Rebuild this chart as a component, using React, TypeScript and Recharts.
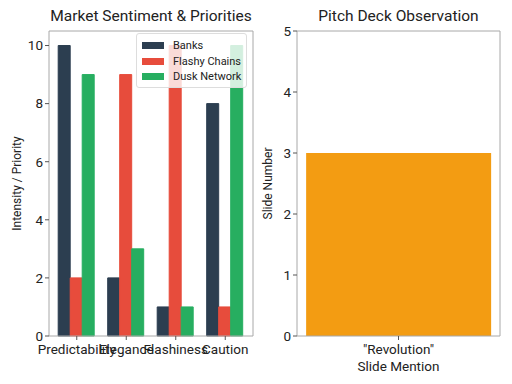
import React from 'react';
import { BarChart, Bar, XAxis, YAxis } from 'recharts';

// sentiment chart
const categories = ['Predictability', 'Elegance', 'Flashiness', 'Caution'];
const banks = [10, 2, 1, 8];
const flashyChains = [2, 9, 10, 1];
const duskNetwork = [9, 3, 1, 10];
const leftTicks = [0, 2, 4, 6, 8, 10];

// pitch deck chart
const slideLabels = ['"Revolution"'];
const slideNumbers = [3];
const rightTicks = [0, 1, 2, 3, 4, 5];

const seriesInfo = [
  { key: 'banks', name: 'Banks', color: '#2c3e50' },
  { key: 'flashy', name: 'Flashy Chains', color: '#e74c3c' },
  { key: 'dusk', name: 'Dusk Network', color: '#27ae60' },
];

const sentimentData = categories.map((c, i) => ({
  name: c,
  banks: banks[i],
  flashy: flashyChains[i],
  dusk: duskNetwork[i],
}));

const slideData = slideLabels.map((s, i) => ({ name: s, value: slideNumbers[i] }));

const FONT = 'Roboto, "Open Sans", sans-serif';
const SPINE = '#a8a8a8';
const TXT = '#222';

const tickStyle = { fill: TXT, fontSize: 13.5, fontFamily: FONT };

const App: React.FC = () => {
  return (
    <div style={{ position: 'absolute', left: 0, top: 0, width: 512, height: 384, background: '#fff', fontFamily: FONT }}>
      <div style={{ position: 'absolute', left: 40, width: 222, top: 7, textAlign: 'center', fontSize: 15.5, color: TXT }}>
        Market Sentiment &amp; Priorities
      </div>
      <div style={{ position: 'absolute', left: 290, width: 217, top: 7, textAlign: 'center', fontSize: 15.5, color: TXT }}>
        Pitch Deck Observation
      </div>

      <div style={{ position: 'absolute', left: 0, top: 0 }}>
        <BarChart width={260} height={384} data={sentimentData} margin={{ top: 30, right: 6, left: 0, bottom: 0 }} barCategoryGap="12.5%" barGap={0}>
          <XAxis dataKey="name" height={48} interval={0} padding={{ left: 3, right: 3 }} tick={tickStyle} tickLine={{ stroke: '#555' }} tickSize={4} tickMargin={4} axisLine={{ stroke: SPINE }} />
          <XAxis xAxisId="top" orientation="top" dataKey="name" height={1} tick={false} tickLine={false} axisLine={{ stroke: SPINE }} />
          <YAxis
            domain={[0, 10.5]}
            ticks={leftTicks}
            width={49}
            tick={tickStyle}
            tickLine={{ stroke: '#555' }}
            tickSize={4}
            axisLine={{ stroke: SPINE }}
            label={{ value: 'Intensity / Priority', angle: -90, position: 'insideLeft', offset: 17, style: { textAnchor: 'middle', fontSize: 12, fill: TXT, fontFamily: FONT } }}
          />
          <YAxis yAxisId="right" orientation="right" width={1} tick={false} tickLine={false} axisLine={{ stroke: SPINE }} />
          {seriesInfo.map((s) => (
            <Bar key={s.key} dataKey={s.key} name={s.name} fill={s.color} stroke={s.color} isAnimationActive={false} />
          ))}
        </BarChart>
      </div>

      <div style={{ position: 'absolute', left: 136, top: 33, width: 111, height: 55, background: 'rgba(255,255,255,0.8)', border: '1px solid #ddd', borderRadius: 3, boxSizing: 'border-box', padding: '4px 0 0 5px' }}>
        {seriesInfo.map((s) => (
          <div key={s.key} style={{ display: 'flex', alignItems: 'center', height: 15.5, fontSize: 11, color: TXT }}>
            <span style={{ display: 'inline-block', width: 22, height: 7, background: s.color, marginRight: 9 }} />
            {s.name}
          </div>
        ))}
      </div>

      <div style={{ position: 'absolute', left: 260, top: 0 }}>
        <BarChart width={252} height={384} data={slideData} margin={{ top: 30, right: 11, left: 0, bottom: 0 }} barCategoryGap="4.5%">
          <XAxis
            dataKey="name"
            height={48}
            tick={tickStyle}
            tickLine={{ stroke: '#555' }}
            tickSize={4}
            tickMargin={4}
            axisLine={{ stroke: SPINE }}
            label={{ value: 'Slide Mention', position: 'insideTop', offset: 25, style: { fontSize: 13.5, fill: TXT, fontFamily: FONT } }}
          />
          <XAxis xAxisId="top" orientation="top" dataKey="name" height={1} tick={false} tickLine={false} axisLine={{ stroke: SPINE }} />
          <YAxis
            domain={[0, 5]}
            ticks={rightTicks}
            width={37}
            tick={tickStyle}
            tickLine={{ stroke: '#555' }}
            tickSize={4}
            axisLine={{ stroke: SPINE }}
            label={{ value: 'Slide Number', angle: -90, position: 'insideLeft', offset: 8, style: { textAnchor: 'middle', fontSize: 12, fill: TXT, fontFamily: FONT } }}
          />
          <YAxis yAxisId="right" orientation="right" width={1} tick={false} tickLine={false} axisLine={{ stroke: SPINE }} />
          <Bar dataKey="value" fill="#f39c12" isAnimationActive={false} />
        </BarChart>
      </div>
    </div>
  );
};

export default App;
